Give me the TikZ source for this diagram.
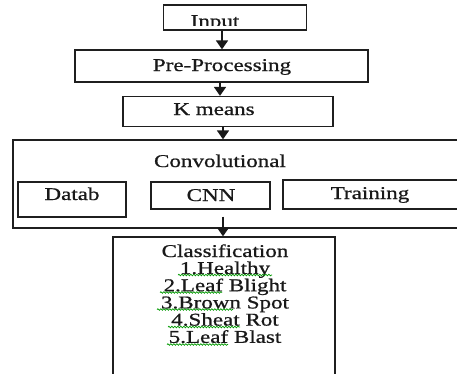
\documentclass[tikz,border=0pt]{standalone}
\usepackage{fontspec}
\setmainfont{Liberation Serif}[FakeStretch=1.28,FakeBold=0.8]
\usetikzlibrary{arrows.meta,decorations.pathmorphing}
\begin{document}
\begin{tikzpicture}[x=1pt,y=-1pt,
  box/.style={draw=black!88,line width=1.3pt,inner sep=0pt},
  lbl/.style={font=\fontsize{18}{18}\selectfont,inner sep=0pt,anchor=base,text=black!90},
  arr/.style={draw=black!90,line width=1.8pt,-{Triangle[width=12pt,length=9pt]}},
  squig/.style={draw=green!60!black,line width=0.7pt,decorate,decoration={snake,amplitude=0.8pt,segment length=3pt}}]
\useasboundingbox (0,0) rectangle (457,373);
% boxes
\node[box,minimum width=143pt,minimum height=25pt] (input) at (235,17.5) {};
\node[box,minimum width=293pt,minimum height=32pt] (pre) at (221.5,66) {};
\node[box,minimum width=210pt,minimum height=30pt] (km) at (228,111.5) {};
\node[box,minimum width=467pt,minimum height=88pt] (conv) at (246.5,184) {};
\node[box,minimum width=108pt,minimum height=35pt] (datab) at (72,199.5) {};
\node[box,minimum width=119pt,minimum height=27pt] (cnn) at (210.5,195.5) {};
\node[box,minimum width=190pt,minimum height=29pt] (train) at (378,194.5) {};
\node[box,minimum width=222pt,minimum height=150pt] (cls) at (224,312) {};
% texts
\begin{scope}
\clip (164,6) rectangle (306,25);
\node[lbl] (tinput) at (215,27) {Input};
\end{scope}
\node[lbl] (tpre) at (222,71) {Pre-Processing};
\node[lbl] (tkm) at (214,115) {K means};
\node[lbl] (tconv) at (220,167) {Convolutional};
\node[lbl] (tdatab) at (72,200) {Datab};
\node[lbl] (tcnn) at (211,201) {CNN};
\node[lbl] (ttrain) at (370,199) {Training};
\node[lbl] (c0) at (225,257) {Classification};
\node[lbl] (c1) at (225,274) {1.Healthy};
\node[lbl] (c2) at (225,291.2) {2.Leaf Blight};
\node[lbl] (c3) at (225,308.4) {3.Brown Spot};
\node[lbl] (c4) at (225,325.6) {4.Sheat Rot};
\node[lbl] (c5) at (225,342.8) {5.Leaf Blast};
% spell-check squiggles
\draw[squig] (178,275) -- (272,275);
\draw[squig] (160,292.5) -- (222,292.5);
\draw[squig] (157,309.5) -- (233,309.5);
\draw[squig] (168,327) -- (240,327);
\draw[squig] (167,344.5) -- (228,344.5);
% arrows
\coordinate (a1) at (222,0);
\coordinate (a2) at (220,0);
\coordinate (a3) at (223,0);
\draw[arr] (input.south -| a1) -- (pre.north -| a1);
\draw[arr] (pre.south -| a2) -- (km.north -| a2);
\draw[arr] (km.south -| a3) -- (conv.north -| a3);
\draw[arr,shorten <=7pt] (cnn.south -| a3) -- (cls.north -| a3);
\end{tikzpicture}
\end{document}
